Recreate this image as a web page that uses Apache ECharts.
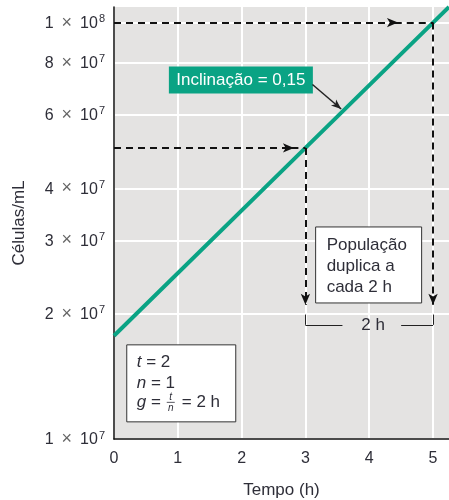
<!DOCTYPE html>
<html><head><meta charset="utf-8">
<script src="https://cdn.jsdelivr.net/npm/echarts@6/dist/echarts.min.js"></script>
<style>html,body{margin:0;padding:0;background:#fff}#c{width:449px;height:500px}</style>
</head><body><div id="c"></div>
<script>
// ---- data ----
const hours = [0, 3, 5, 5.25];
const cellsPerML = [1.77e7, 5e7, 1e8, 1.09e8];
const xTickValues = [0, 1, 2, 3, 4, 5];
const yTickValues = [1e7, 2e7, 3e7, 4e7, 6e7, 8e7, 1e8];
const slopeLabel = 'Inclinação = 0,15';
const boxLines = ['População', 'duplica a', 'cada 2 h'];
const doublingLabel = '2 h';

const FONT = '"Liberation Sans", Arial, Helvetica, sans-serif';
const TXT = '#2e2e38';
const GREEN = '#0aa384';

const chart = echarts.init(document.getElementById('c'), null, {renderer: 'canvas'});

function dash(a, b, arrow) {
  const ls = {color: '#111', width: 2, type: [7, 5]};
  return [
    {coord: a, symbol: 'none', lineStyle: ls},
    {coord: b, symbol: arrow ? 'arrow' : 'none', symbolSize: [7, 11], lineStyle: ls}
  ];
}
function thin(a, b) {
  const ls = {color: '#222', width: 1, type: 'solid'};
  return [{coord: a, symbol: 'none', lineStyle: ls}, {coord: b, symbol: 'none', lineStyle: ls}];
}

const option = {
  animation: false,
  textStyle: {fontFamily: FONT},
  grid: {left: 114, right: 0, top: 7, bottom: 61, show: true, backgroundColor: '#e4e3e2', borderWidth: 0,
         containLabel: false, outerBoundsMode: 'none'},
  xAxis: {
    type: 'value', min: 0, max: 5.25, interval: 1,
    name: 'Tempo (h)', nameLocation: 'middle', nameGap: 43,
    nameTextStyle: {fontSize: 17, color: TXT, fontFamily: FONT},
    axisLine: {show: true, lineStyle: {color: '#111', width: 1.5}},
    axisTick: {show: false, customValues: xTickValues},
    axisLabel: {customValues: xTickValues, fontSize: 16, color: TXT, margin: 12, fontFamily: FONT},
    splitLine: {show: true, lineStyle: {color: '#fff', width: 2}}
  },
  yAxis: {
    type: 'log', logBase: 10, min: 1e7, max: 1.09e8,
    name: 'Células/mL', nameLocation: 'middle', nameGap: 86,
    nameTextStyle: {fontSize: 17, color: TXT, fontFamily: FONT},
    axisLine: {show: true, lineStyle: {color: '#111', width: 1.5}},
    axisTick: {show: false, customValues: yTickValues},
    axisLabel: {
      customValues: yTickValues, margin: 9, color: TXT,
      formatter: function (v) {
        const e = Math.floor(Math.log10(v) + 1e-9);
        const m = Math.round(v / Math.pow(10, e));
        return '{m|' + m + '\u2002}{x|×}{m|\u200210}{s|' + e + '}';
      },
      rich: {
        m: {fontSize: 16, color: TXT, fontFamily: FONT, verticalAlign: 'bottom', lineHeight: 18},
        x: {fontSize: 18, color: '#666', fontFamily: FONT, verticalAlign: 'bottom', lineHeight: 18},
        s: {fontSize: 11, color: TXT, fontFamily: FONT, verticalAlign: 'top', lineHeight: 11, padding: [0, 0, 0, 1]}
      }
    },
    splitLine: {show: true, lineStyle: {color: '#fff', width: 2}}
  },
  series: [{
    type: 'line',
    data: hours.map((h, i) => [h, cellsPerML[i]]),
    showSymbol: false, symbol: 'none',
    lineStyle: {color: GREEN, width: 4},
    clip: true,
    z: 3,
    markLine: {
      silent: true, animation: false,
      label: {show: false},
      emphasis: {disabled: true},
      data: [
        dash([0, 1e8], [4.45, 1e8], true),
        dash([4.4, 1e8], [5, 1e8], false),
        dash([5, 1e8], [5, 2.1e7], true),
        dash([0, 5e7], [2.82, 5e7], true),
        dash([2.78, 5e7], [3, 5e7], false),
        dash([3, 5e7], [3, 2.1e7], true),
        [{coord: [3.11, 7.1e7], symbol: 'none', lineStyle: {color: '#222', width: 1.5, type: 'solid'}},
         {coord: [3.56, 6.2e7], symbol: 'arrow', symbolSize: [6, 10], lineStyle: {color: '#222', width: 1.5, type: 'solid'}}],
        thin([3, 1.99e7], [3, 1.88e7]),
        thin([3, 1.88e7], [3.58, 1.88e7]),
        thin([4.5, 1.88e7], [5, 1.88e7]),
        thin([5, 1.88e7], [5, 1.99e7])
      ]
    }
  }]
};
chart.setOption(option);

function px(x, y) { return chart.convertToPixel({gridIndex: 0}, [x, y]); }
const pBox = px(3.16, 3.23e7);
const pEq = px(0.2, 1.683e7);
const pSlope = px(0.86, 7.84e7);
const p2h = px(4.06, 1.88e7);

const textBase = {fontFamily: FONT, fill: TXT, fontSize: 17};
chart.setOption({
  graphic: [
    {type: 'group', x: pSlope[0], y: pSlope[1], z: 20, children: [
      {type: 'rect', shape: {x: 0, y: 0, width: 144, height: 27}, style: {fill: GREEN}},
      {type: 'text', x: 72, y: 14, style: {text: slopeLabel, fill: '#fff', fontSize: 17, fontFamily: FONT, align: 'center', verticalAlign: 'middle'}}
    ]},
    {type: 'group', x: pBox[0], y: pBox[1], z: 20, children: [
      {type: 'rect', shape: {x: 0, y: 0, width: 106, height: 76}, style: {fill: '#fff', stroke: '#333', lineWidth: 1}},
      {type: 'text', x: 11, y: 18, style: Object.assign({}, textBase, {text: boxLines[0], verticalAlign: 'middle'})},
      {type: 'text', x: 11, y: 39, style: Object.assign({}, textBase, {text: boxLines[1], verticalAlign: 'middle'})},
      {type: 'text', x: 11, y: 60, style: Object.assign({}, textBase, {text: boxLines[2], verticalAlign: 'middle'})}
    ]},
    {type: 'group', x: pEq[0], y: pEq[1], z: 20, children: [
      {type: 'rect', shape: {x: 0, y: 0, width: 109, height: 77}, style: {fill: '#fff', stroke: '#333', lineWidth: 1}},
      {type: 'text', x: 10, y: 17, style: Object.assign({}, textBase, {text: '{i|t} = 2', verticalAlign: 'middle', rich: {i: {fontStyle: 'italic', fontSize: 17, fontFamily: FONT, fill: TXT}}})},
      {type: 'text', x: 10, y: 38, style: Object.assign({}, textBase, {text: '{i|n} = 1', verticalAlign: 'middle', rich: {i: {fontStyle: 'italic', fontSize: 17, fontFamily: FONT, fill: TXT}}})},
      {type: 'text', x: 10, y: 57, style: Object.assign({}, textBase, {text: '{i|g} =', verticalAlign: 'middle', rich: {i: {fontStyle: 'italic', fontSize: 17, fontFamily: FONT, fill: TXT}}})},
      {type: 'text', x: 44, y: 52, style: {text: 't', fontStyle: 'italic', fontSize: 10, fontFamily: FONT, fill: TXT, align: 'center', verticalAlign: 'middle'}},
      {type: 'line', shape: {x1: 40, y1: 57.5, x2: 48, y2: 57.5}, style: {stroke: TXT, lineWidth: 0.8}},
      {type: 'text', x: 44, y: 63, style: {text: 'n', fontStyle: 'italic', fontSize: 10, fontFamily: FONT, fill: TXT, align: 'center', verticalAlign: 'middle'}},
      {type: 'text', x: 55, y: 57, style: Object.assign({}, textBase, {text: '= 2 h', verticalAlign: 'middle'})}
    ]},
    {type: 'text', x: p2h[0], y: p2h[1], z: 20, style: Object.assign({}, textBase, {text: doublingLabel, align: 'center', verticalAlign: 'middle'})}
  ]
});
</script>
</body></html>
